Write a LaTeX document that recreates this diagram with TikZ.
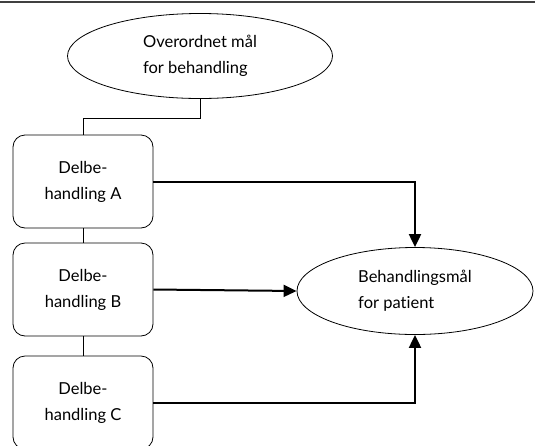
\documentclass[tikz,border=0pt]{standalone}
\usepackage{fontspec}
\setmainfont{Lato}[Ligatures=NoCommon]
\usepackage{tikz}
\usetikzlibrary{arrows.meta,shapes.geometric}
\newcommand{\boxwidth}{140pt}
\newcommand{\boxheight}{93pt}
\newcommand{\arrowwidth}{2pt}

\begin{document}
\begin{tikzpicture}[x=1pt,y=-1pt,font=\fontsize{16.5}{26}\selectfont]
\useasboundingbox (0,0) rectangle (535,445);
\draw[black!75, line width=1.3pt] (0,2) -- (535,2);
\node[draw,ellipse,thick,minimum width=265pt,minimum height=85pt,inner sep=0pt,align=left] (top) at (200,56) {Overordnet mål\\for behandling};
\node[draw,rounded corners=12pt,thick,minimum width=\boxwidth,minimum height=\boxheight,align=center] (A) at (83,181.5) {Delbe-\\handling A};
\node[draw,rounded corners=12pt,thick,minimum width=\boxwidth,minimum height=\boxheight,align=center] (B) at (83,289.5) {Delbe-\\handling B};
\node[draw,rounded corners=12pt,thick,minimum width=\boxwidth,minimum height=\boxheight,align=center] (C) at (83,402.5) {Delbe-\\handling C};
\node[draw,ellipse,thick,minimum width=236pt,minimum height=87pt,inner sep=0pt,align=left] (goal) at (415,291) {Behandlingsmål\\for patient};
%tree
\draw (top.south) -- ++(0,19) -| (A.north);
\draw (A.south) -- (B.north);
\draw (B.south) -- (C.north);
%goal
\draw[line width=\arrowwidth,-{Triangle[length=13pt,width=12pt]}] (A.east) -| (goal.north);
\draw[line width=\arrowwidth,-{Triangle[length=13pt,width=12pt]}] (B.east) -- (goal.west);
\draw[line width=\arrowwidth,-{Triangle[length=13pt,width=12pt]}] (C.east) -| (goal.south);
\end{tikzpicture}
\end{document}
